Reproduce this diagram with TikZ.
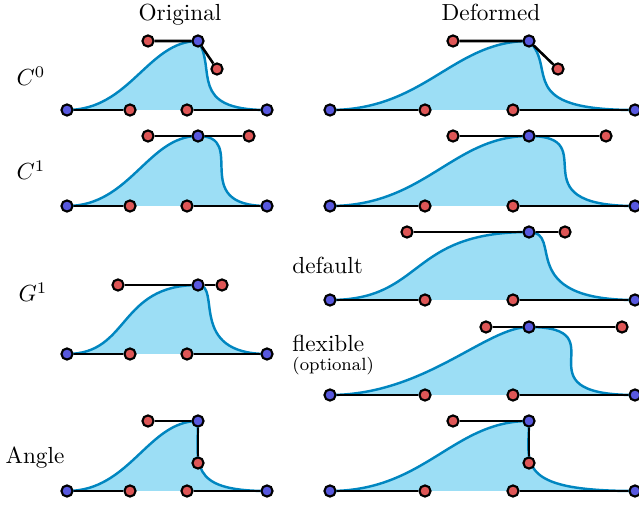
\documentclass[tikz,border=0pt]{standalone}
\usetikzlibrary{backgrounds}
\definecolor{ctrlred}{RGB}{222,86,86}
\definecolor{knotblue}{RGB}{88,88,222}
\definecolor{areablue}{RGB}{156,222,245}
\definecolor{curveblue}{RGB}{0,134,192}
% one bump: left knot, two controls, peak, two controls, right knot
\newcommand{\bump}[1]{(#1l.center) .. controls (#1a.center) and (#1h.center) .. (#1p.center) .. controls (#1k.center) and (#1b.center) .. (#1r.center)}

\begin{document}
\begin{tikzpicture}[x=0.43pt, y=-0.43pt]
  \tikzstyle{pt}=[circle, draw=black, line width=0.9pt, inner sep=0pt, minimum size=4.8pt]
  \tikzstyle{ctrl}=[pt, fill=ctrlred]
  \tikzstyle{knot}=[pt, fill=knotblue]
  \tikzstyle{hdl}=[line width=1.1pt]
  \tikzstyle{area}=[fill=areablue]
  \tikzstyle{crv}=[draw=curveblue, line width=1.05pt]
  \useasboundingbox (0,0) rectangle (639,506);

  % titles and row labels
  \node[anchor=base] (orig) at (180,21) {Original};
  \node[anchor=base] (deform) at (491,21) {Deformed};
  \node[anchor=base] (c0) at (31,86) {$C^0$};
  \node[anchor=base] (c1) at (31,180) {$C^1$};
  \node[anchor=base] (g1) at (33,302) {$G^1$};
  \node[anchor=base] (angle) at (35,464) {Angle};
  \node[anchor=base west, inner sep=0pt] (dflt) at (292,274) {default};
  \node[anchor=base west, inner sep=0pt] (flex) at (292,352) {flexible};
  \node[anchor=base west, inner sep=0pt, font=\fontsize{7.6}{9}\selectfont] (opt) at (292,371) {(optional)};

  % C0
  \node[knot] (oal) at (67,110) {};
  \node[ctrl] (oaa) at (130,110) {};
  \node[ctrl] (oab) at (187,110) {};
  \node[knot] (oar) at (267,110) {};
  \node[ctrl] (oah) at (148,41) {};
  \node[knot] (oap) at (198,41) {};
  \node[ctrl] (oak) at (217,69) {};
  \node[knot] (dal) at (330,110) {};
  \node[ctrl] (daa) at (425,110) {};
  \node[ctrl] (dab) at (513,110) {};
  \node[knot] (dar) at (635,110) {};
  \node[ctrl] (dah) at (453,41) {};
  \node[knot] (dap) at (529,41) {};
  \node[ctrl] (dak) at (558,69) {};

  % C1
  \node[knot] (obl) at (67,206) {};
  \node[ctrl] (oba) at (130,206) {};
  \node[ctrl] (obb) at (187,206) {};
  \node[knot] (obr) at (267,206) {};
  \node[ctrl] (obh) at (148,136) {};
  \node[knot] (obp) at (198,136) {};
  \node[ctrl] (obk) at (249,136) {};
  \node[knot] (dbl) at (330,206) {};
  \node[ctrl] (dba) at (425,206) {};
  \node[ctrl] (dbb) at (513,206) {};
  \node[knot] (dbr) at (635,206) {};
  \node[ctrl] (dbh) at (453,136) {};
  \node[knot] (dbp) at (529,136) {};
  \node[ctrl] (dbk) at (606,136) {};

  % G1
  \node[knot] (ocl) at (67,354) {};
  \node[ctrl] (oca) at (130,354) {};
  \node[ctrl] (ocb) at (187,354) {};
  \node[knot] (ocr) at (267,354) {};
  \node[ctrl] (och) at (118,285) {};
  \node[knot] (ocp) at (198,285) {};
  \node[ctrl] (ock) at (222,285) {};
  \node[knot] (dcl) at (330,300) {};
  \node[ctrl] (dca) at (425,300) {};
  \node[ctrl] (dcb) at (513,300) {};
  \node[knot] (dcr) at (635,300) {};
  \node[ctrl] (dch) at (407,232) {};
  \node[knot] (dcp) at (529,232) {};
  \node[ctrl] (dck) at (565,232) {};
  \node[knot] (ddl) at (330,395) {};
  \node[ctrl] (dda) at (425,395) {};
  \node[ctrl] (ddb) at (513,395) {};
  \node[knot] (ddr) at (635,395) {};
  \node[ctrl] (ddh) at (486,327) {};
  \node[knot] (ddp) at (529,327) {};
  \node[ctrl] (ddk) at (622,327) {};

  % Angle
  \node[knot] (oel) at (67,491) {};
  \node[ctrl] (oea) at (130,491) {};
  \node[ctrl] (oeb) at (187,491) {};
  \node[knot] (oer) at (267,491) {};
  \node[ctrl] (oeh) at (148,421) {};
  \node[knot] (oep) at (198,421) {};
  \node[ctrl] (oek) at (198,463) {};
  \node[knot] (del) at (330,491) {};
  \node[ctrl] (dea) at (425,491) {};
  \node[ctrl] (deb) at (513,491) {};
  \node[knot] (der) at (635,491) {};
  \node[ctrl] (deh) at (453,421) {};
  \node[knot] (dep) at (529,421) {};
  \node[ctrl] (dek) at (529,463) {};

  \foreach \p in {oa,da,ob,db,oc,dc,dd,oe,de} {
    \draw[hdl] (\p l) -- (\p a);
    \draw[hdl] (\p b) -- (\p r);
    \draw[hdl] (\p h) -- (\p p) -- (\p k);
  }
  \begin{scope}[on background layer]
    \foreach \p in {oa,da,ob,db,oc,dc,dd,oe,de} {
      \fill[area] \bump{\p} -- cycle;
      \draw[crv] \bump{\p};
    }
  \end{scope}
\end{tikzpicture}
\end{document}
